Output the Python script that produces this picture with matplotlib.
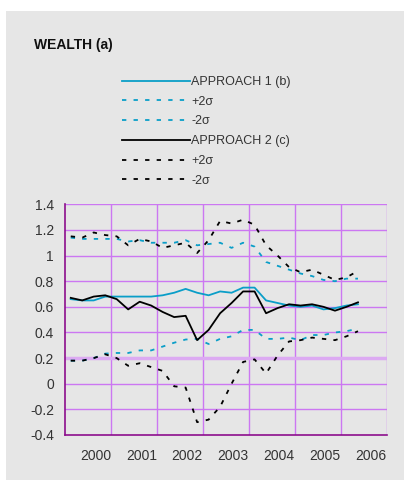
"""Wealth chart: approach 1 vs approach 2 with +/-2 sigma bands (quarterly, 2000-2006)."""

import matplotlib

matplotlib.use("Agg")
import matplotlib.pyplot as plt
import numpy as np
from matplotlib.patches import Rectangle

# quarterly observations, first quarter of the first column onward
approach1 = [0.66, 0.65, 0.65, 0.68, 0.68, 0.68, 0.68, 0.68, 0.69, 0.71, 0.74, 0.71,
             0.69, 0.72, 0.71, 0.75, 0.75, 0.65, 0.63, 0.61, 0.60, 0.61, 0.58, 0.59,
             0.61, 0.62]
approach1_up = [1.14, 1.13, 1.13, 1.13, 1.13, 1.11, 1.12, 1.10, 1.10, 1.10, 1.12, 1.08,
                1.09, 1.10, 1.06, 1.10, 1.07, 0.95, 0.92, 0.89, 0.86, 0.84, 0.81, 0.80,
                0.82, 0.82]
approach1_lo = [0.18, 0.18, 0.20, 0.235, 0.24, 0.24, 0.26, 0.26, 0.29, 0.32, 0.345, 0.35,
                0.31, 0.35, 0.37, 0.42, 0.42, 0.35, 0.35, 0.36, 0.34, 0.38, 0.38, 0.40,
                0.41, 0.43]

approach2 = [0.67, 0.65, 0.68, 0.69, 0.66, 0.58, 0.64, 0.61, 0.56, 0.52, 0.53, 0.34,
             0.42, 0.55, 0.63, 0.72, 0.72, 0.55, 0.59, 0.62, 0.61, 0.62, 0.60, 0.57,
             0.60, 0.635]
approach2_up = [1.15, 1.14, 1.18, 1.16, 1.15, 1.08, 1.13, 1.11, 1.06, 1.08, 1.10, 1.02,
                1.12, 1.27, 1.25, 1.28, 1.24, 1.08, 1.00, 0.91, 0.87, 0.89, 0.85, 0.81,
                0.83, 0.88]
approach2_lo = [0.18, 0.18, 0.20, 0.23, 0.20, 0.14, 0.16, 0.13, 0.10, -0.02, -0.03, -0.30,
                -0.28, -0.18, 0.00, 0.17, 0.19, 0.08, 0.22, 0.33, 0.34, 0.36, 0.35, 0.34,
                0.37, 0.41]

years = ["2000", "2001", "2002", "2003", "2004", "2005", "2006"]
y_ticks = [-0.4, -0.2, 0, 0.2, 0.4, 0.6, 0.8, 1, 1.2, 1.4]
y_labels = ["-0.4", "-0.2", "0", "0.2", "0.4", "0.6", "0.8", "1", "1.2", "1.4"]

CYAN = "#0a9ec8"
BLACK = "#000000"
GRID = "#cc77f2"
SPINE = "#8c0f8c"
PANEL = "#e6e6e6"
TEXT = "#333333"
DASH = (0, (2.4, 4.0))

plt.rcParams["font.family"] = ["Liberation Sans", "DejaVu Sans"]

fig = plt.figure(figsize=(4.04, 4.80), dpi=100, facecolor="white")
fig.patches.append(Rectangle((6 / 404, 0), 1 - 6 / 404, 1 - 11 / 480,
                             transform=fig.transFigure, facecolor=PANEL,
                             edgecolor="none", zorder=-10))

ax = fig.add_axes([65 / 404, 1 - 435 / 480, 321.7 / 404, 230.7 / 480])
ax.set_facecolor(PANEL)

x = np.arange(len(approach1))
lw = 1.3
ax.plot(x, approach1, color=CYAN, lw=lw, label="APPROACH 1 (b)", zorder=4)
ax.plot(x, approach1_up, color=CYAN, lw=lw, ls=DASH, label="+2σ", zorder=3)
ax.plot(x, approach1_lo, color=CYAN, lw=lw, ls=DASH, label="-2σ", zorder=3)
ax.plot(x, approach2, color=BLACK, lw=lw, label="APPROACH 2 (c)", zorder=5)
ax.plot(x, approach2_up, color=BLACK, lw=lw, ls=DASH, label="+2σ", zorder=4)
ax.plot(x, approach2_lo, color=BLACK, lw=lw, ls=DASH, label="-2σ", zorder=4)

# one column per year, four quarters each
n_cols = len(years)
ax.set_xlim(-0.5, 4 * n_cols - 0.5)
ax.set_ylim(-0.4, 1.4)
bounds = [-0.5 + 4 * k for k in range(n_cols + 1)]
for b in bounds[1:]:
    ax.axvline(b, color=GRID, lw=1.0, zorder=1)
for t in y_ticks[1:]:
    ax.axhline(t, color=GRID, lw=1.0, zorder=1)
ax.axhline(0.2, color="#dcaaf2", lw=2.5, zorder=1)

ax.set_yticks(y_ticks)
ax.set_yticklabels(y_labels, fontsize=10, color=TEXT)
ax.set_xticks(bounds[1:])
ax.set_xticklabels(years, fontsize=10, color=TEXT, ha="right")
ax.tick_params(axis="both", length=0)
ax.tick_params(axis="y", pad=8)
ax.tick_params(axis="x", pad=10)

for side in ["top", "right"]:
    ax.spines[side].set_visible(False)
for side in ["left", "bottom"]:
    ax.spines[side].set_color(SPINE)
    ax.spines[side].set_linewidth(1.2)

fig.text(34 / 404, 1 - 45 / 480, "WEALTH (a)", fontsize=10, fontweight="bold",
         color="#111111", ha="left", va="center")

leg = ax.legend(loc="upper left", bbox_to_anchor=(122 / 404, 1 - 76 / 480),
                bbox_transform=fig.transFigure, frameon=False, fontsize=9,
                handlelength=5.4, handletextpad=0.15, labelspacing=0.62,
                borderpad=0, borderaxespad=0)
for txt in leg.get_texts():
    txt.set_color(TEXT)

fig.savefig("out.png", dpi=100, facecolor="white")
